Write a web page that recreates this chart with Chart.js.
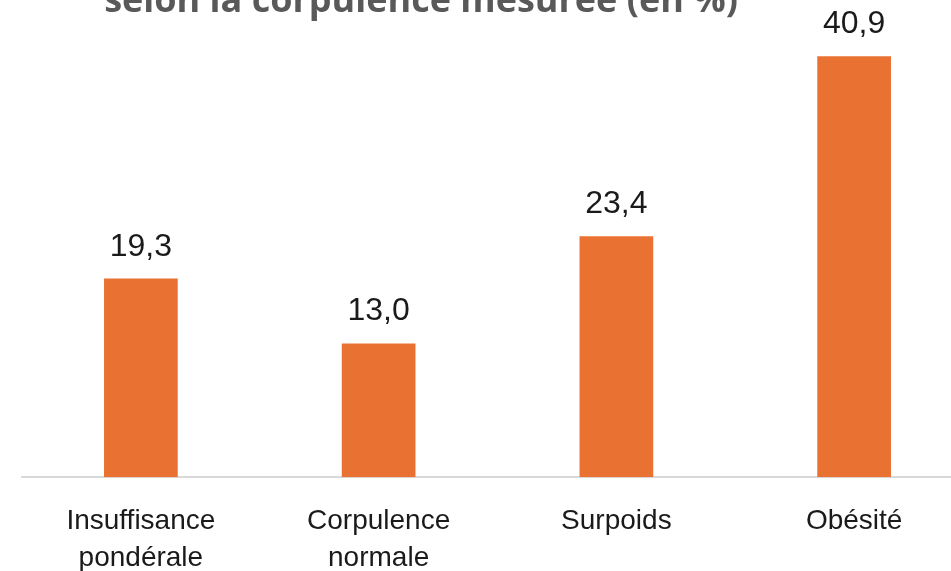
<!DOCTYPE html>
<html>
<head>
<meta charset="utf-8">
<script src="https://cdn.jsdelivr.net/npm/chart.js@4"></script>
<style>
  html, body { margin: 0; padding: 0; background: #fff; overflow: hidden; }
  #wrap { position: absolute; left: 0; top: 0; width: 973px; height: 571px; }
</style>
</head>
<body>
<div id="wrap"><canvas id="chart"></canvas></div>
<script>
const categories = [['Insuffisance', 'pondérale'], ['Corpulence', 'normale'], 'Surpoids', 'Obésité'];
const values = [19.3, 13.0, 23.4, 40.9];
const titleText = 'selon la corpulence mesurée (en %)';

const fmt = v => v.toFixed(1).replace('.', ',');

const topTitle = {
    id: 'topTitle',
    afterDraw(chart) {
        const c = chart.ctx;
        c.save();
        c.font = 'bold 36px "Open Sans"';
        c.fillStyle = '#595959';
        c.textAlign = 'center';
        c.textBaseline = 'alphabetic';
        c.fillText(titleText, 421, 12);
        c.restore();
    }
};

const valueLabels = {
    id: 'valueLabels',
    afterDatasetsDraw(chart) {
        const c = chart.ctx;
        const meta = chart.getDatasetMeta(0);
        c.save();
        c.font = '32px "Liberation Sans"';
        c.fillStyle = '#1a1a1a';
        c.textAlign = 'center';
        c.textBaseline = 'alphabetic';
        meta.data.forEach((bar, i) => {
            c.fillText(fmt(values[i]), bar.x, bar.y - 23);
        });
        c.restore();
    }
};

const ctx = document.getElementById('chart').getContext('2d');
const chart = new Chart(ctx, {
    type: 'bar',
    data: {
        labels: categories,
        datasets: [{
            data: values,
            backgroundColor: '#e97132',
            barPercentage: 0.31,
            categoryPercentage: 1
        }]
    },
    options: {
        responsive: true,
        maintainAspectRatio: false,
        animation: false,
        layout: { padding: { top: 14, left: 22, right: 0, bottom: -23 } },
        plugins: {
            legend: { display: false },
            tooltip: { enabled: false }
        },
        scales: {
            x: {
                grid: { display: false },
                border: { color: '#d9d9d9', width: 2 },
                ticks: {
                    color: '#1a1a1a',
                    font: { family: 'Liberation Sans', size: 28, lineHeight: 1.3 },
                    padding: 18,
                    maxRotation: 0
                }
            },
            y: {
                display: false,
                min: 0,
                max: 45
            }
        }
    },
    plugins: [topTitle, valueLabels]
});
</script>
</body>
</html>
